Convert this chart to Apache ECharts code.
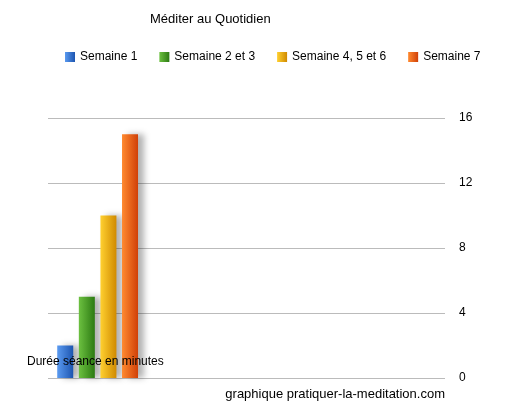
<!DOCTYPE html>
<html>
<head>
<meta charset="utf-8">
<script src="https://cdn.jsdelivr.net/npm/echarts@6/dist/echarts.min.js"></script>
<style>html,body{margin:0;padding:0;background:#fff}#chart{width:509px;height:411px}</style>
</head>
<body>
<div id="chart"></div>
<script>
const categories = ['Durée séance en minutes', '', '', ''];
const seriesNames = ['Semaine 1', 'Semaine 2 et 3', 'Semaine 4, 5 et 6', 'Semaine 7'];
const seriesValues = [2, 5, 10, 15];
const colors = [['#5a9af0', '#1d55b0'], ['#6cc040', '#2c7a12'], ['#ffd030', '#d08a00'], ['#ff8a30', '#d04008']];

const chart = echarts.init(document.getElementById('chart'));

const series = seriesNames.map((name, i) => ({
    name: name,
    type: 'bar',
    barWidth: 16,
    barGap: '35%',
    data: [seriesValues[i], '-', '-', '-'],
    itemStyle: {
        color: new echarts.graphic.LinearGradient(0, 0, 1, 0, [
            { offset: 0, color: colors[i][0] },
            { offset: 1, color: colors[i][1] }
        ]),
        shadowColor: 'rgba(0,0,0,0.3)',
        shadowBlur: 6,
        shadowOffsetX: 6
    }
}));

const option = {
    color: colors.map(c => c[1]),
    title: {
        text: 'Méditer au Quotidien',
        left: 145,
        top: 8,
        textStyle: { fontSize: 13, fontWeight: 'normal', color: '#000', fontFamily: 'Liberation Sans' }
    },
    legend: {
        top: 46,
        left: 60,
        icon: 'rect',
        itemWidth: 10,
        itemHeight: 10,
        itemGap: 22,
        textStyle: { fontSize: 12, color: '#000', fontFamily: 'Liberation Sans' }
    },
    grid: { left: 48, right: 64, top: 118, bottom: 33 },
    xAxis: {
        type: 'category',
        data: categories,
        axisLine: { show: false },
        axisTick: { show: false },
        axisLabel: { show: false }
    },
    yAxis: {
        type: 'value',
        position: 'right',
        min: 0,
        max: 16,
        interval: 4,
        axisLine: { show: false },
        axisTick: { show: false },
        axisLabel: { color: '#000', fontSize: 12, margin: 14, fontFamily: 'Liberation Sans' },
        splitLine: { lineStyle: { color: '#bbb' } }
    },
    graphic: [{
        type: 'text',
        left: 27,
        top: 356,
        z: 100,
        style: { text: categories[0], fontSize: 12, fill: '#000', fontFamily: 'Liberation Sans' }
    }, {
        type: 'text',
        right: 64,
        bottom: 10,
        z: 100,
        style: { text: 'graphique pratiquer-la-meditation.com', fontSize: 13, fill: '#000', fontFamily: 'Liberation Sans' }
    }],
    series: series
};
chart.setOption(option);
</script>
</body>
</html>
